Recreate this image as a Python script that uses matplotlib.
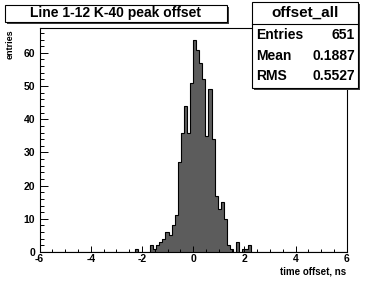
import numpy as np
import matplotlib
matplotlib.use("Agg")
import matplotlib.pyplot as plt
from matplotlib.patches import Rectangle
from matplotlib.ticker import MultipleLocator, FuncFormatter

# histogram: 100 bins of 0.12 ns from -6 to 6, counts for the occupied part
BIN_W = 0.12
X_LO, X_HI = -6.0, 6.0
FIRST_EDGE = -2.28          # left edge of the first listed bin
counts_occupied = [1, 0, 0, 0, 0, 2, 1, 2, 3, 4, 6, 5, 8, 11, 27, 36, 44, 36, 51,
                   64, 61, 57, 52, 35, 49, 34, 17, 13, 15, 10, 2, 1, 0, 3, 0, 1, 1, 2]

title = "Line 1-12 K-40 peak offset"
stats_name = "offset_all"
stats_rows = [("Entries", "651"), ("Mean", "0.1887"), ("RMS", "0.5527")]
xlabel = "time offset, ns"
ylabel = "entries"

W, H = 374, 281
plt.rcParams["font.family"] = ["Liberation Sans", "DejaVu Sans"]
plt.rcParams["font.weight"] = "bold"

edges = np.round(np.arange(X_LO, X_HI + BIN_W / 2, BIN_W), 4)
counts = np.zeros(len(edges) - 1)
i0 = int(round((FIRST_EDGE - X_LO) / BIN_W))
counts[i0:i0 + len(counts_occupied)] = counts_occupied

fig = plt.figure(figsize=(W / 100, H / 100), dpi=100)
fig.patch.set_facecolor("white")


def px(x, y):
    # pixel coords (top-left origin) -> figure fraction
    return x / W, 1 - y / H


ax_l, ax_r, ax_t, ax_b = 39.5, 346.7, 28.3, 252.0
ax = fig.add_axes([ax_l / W, 1 - ax_b / H, (ax_r - ax_l) / W, (ax_b - ax_t) / H])
ax.stairs(counts, edges, fill=True, facecolor="#5c5c5c", edgecolor="none")
ax.stairs(counts, edges, color="black", lw=0.8)
ax.set_xlim(X_LO, X_HI)
ax.set_ylim(0, 67.4)

ax.xaxis.set_major_locator(MultipleLocator(2))
ax.xaxis.set_minor_locator(MultipleLocator(0.5))
ax.yaxis.set_major_locator(MultipleLocator(10))
ax.yaxis.set_minor_locator(MultipleLocator(2))
ax.xaxis.set_major_formatter(FuncFormatter(lambda v, p: "%d" % round(v)))
ax.tick_params(axis="x", which="major", direction="in", length=4.3, width=0.7,
               labelsize=7.5, pad=1.5)
ax.tick_params(axis="x", which="minor", direction="in", length=2.2, width=0.7)
ax.tick_params(axis="y", which="major", direction="in", length=5.8, width=0.7,
               labelsize=7.5, pad=3)
ax.tick_params(axis="y", which="minor", direction="in", length=2.9, width=0.7)
for lab in ax.get_xticklabels() + ax.get_yticklabels():
    lab.set_fontweight("bold")
for s in ax.spines.values():
    s.set_linewidth(0.8)

fig.text(*px(346, 271), xlabel, ha="right", va="center", fontsize=7, fontweight="bold")
fig.text(*px(10, 29), ylabel, ha="center", va="top", rotation=90,
         fontsize=6.5, fontweight="bold")


def box(x0, y0, x1, y1):
    fx0, fy1 = px(x0, y0)
    fx1, fy0 = px(x1, y1)
    sh = 2.0
    fig.patches.append(Rectangle((fx0 + sh / W, fy0 - sh / H), fx1 - fx0, fy1 - fy0,
                                 transform=fig.transFigure, facecolor="#3c3c3c",
                                 edgecolor="none", zorder=5))
    fig.patches.append(Rectangle((fx0, fy0), fx1 - fx0, fy1 - fy0,
                                 transform=fig.transFigure, facecolor="white",
                                 edgecolor="black", lw=0.8, zorder=6))


# title box
box(5, 5, 227, 22)
fig.text(*px(116, 13.5), title, ha="center", va="center", fontsize=10,
         fontweight="bold", zorder=7)

# stats box
box(251.7, 1.7, 358, 88)
fx0, fy = px(251.7, 24)
fx1, _ = px(358, 24)
fig.add_artist(plt.Line2D([fx0, fx1], [fy, fy], color="black", lw=0.8, zorder=7))
fig.text(*px(305, 13), stats_name, ha="center", va="center", fontsize=11,
         fontweight="bold", zorder=7)
for k, (name, val) in enumerate(stats_rows):
    y = 35 + k * 20.5
    fig.text(*px(256, y), name, ha="left", va="center", fontsize=10,
             fontweight="bold", zorder=7)
    fig.text(*px(355, y), val, ha="right", va="center", fontsize=10,
             fontweight="bold", zorder=7)

fig.savefig("out.png", dpi=100)
